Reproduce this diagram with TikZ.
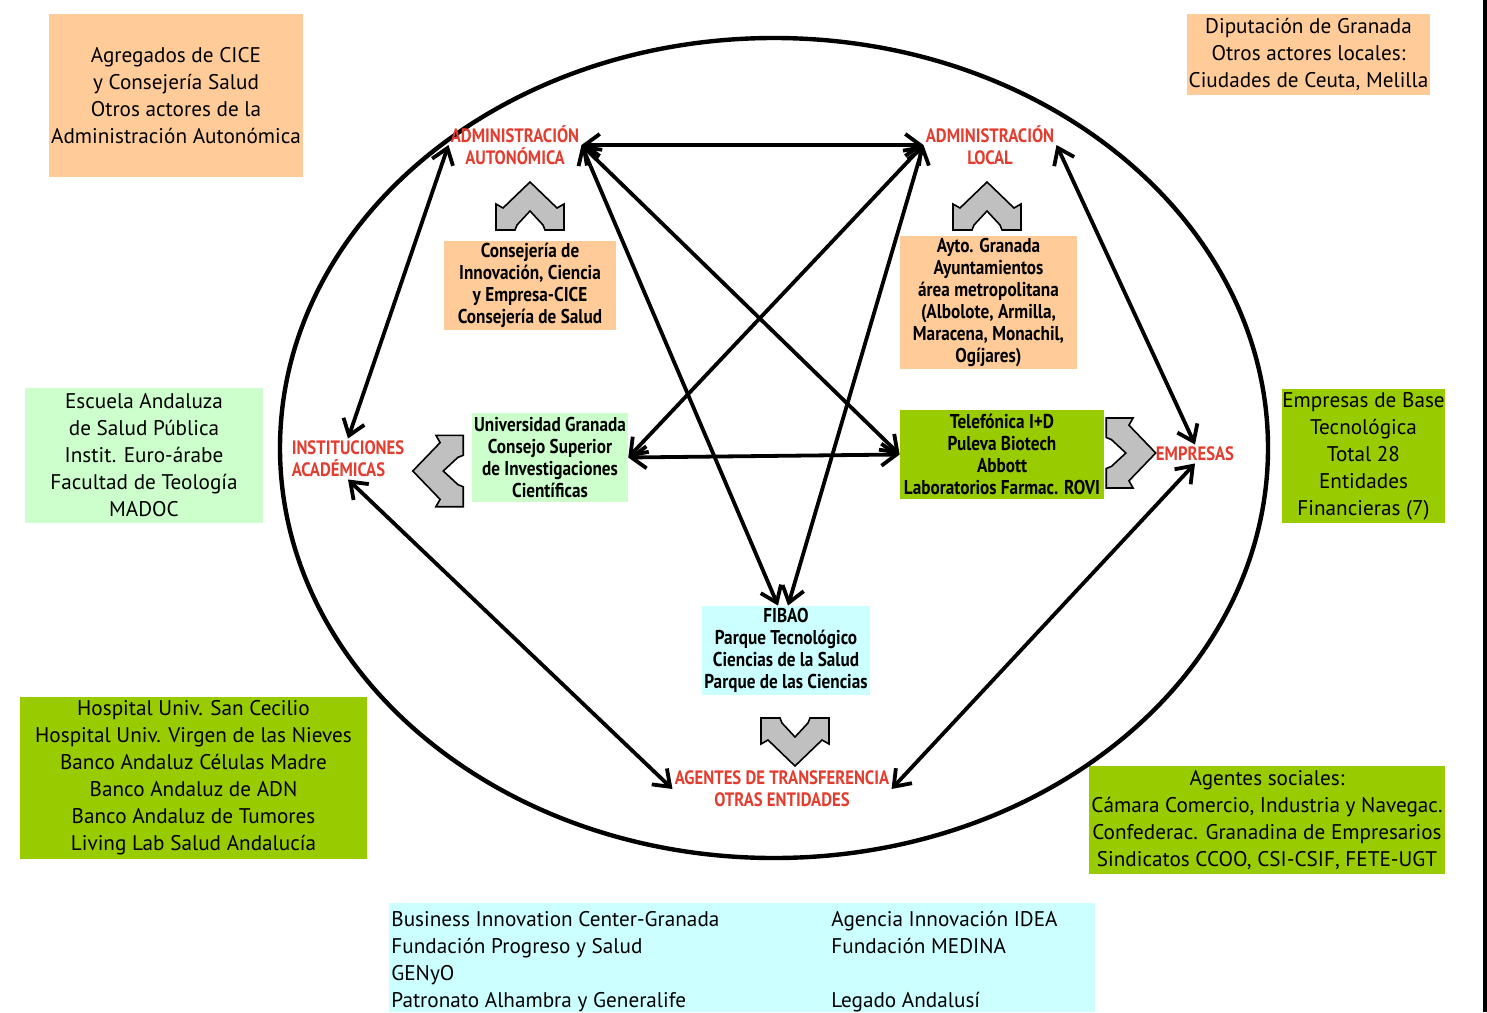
\documentclass[tikz,border=0pt]{standalone}
\usepackage{fontspec}
\setmainfont{PT Sans}
\newfontfamily\narrowfont[FakeStretch=0.86]{PT Sans}
\usetikzlibrary{arrows.meta}
\definecolor{peach}{HTML}{FFCC99}
\definecolor{mint}{HTML}{CCFFCC}
\definecolor{leaf}{HTML}{99CC00}
\definecolor{aqua}{HTML}{CCFFFF}
\definecolor{actorred}{HTML}{E43D30}
\definecolor{swapgray}{HTML}{C0C0C0}

\tikzset{
  swaparrow/.pic={
    \draw[fill=swapgray, line width=0.8pt] (0,-24) -- (27,2) -- (34,-2) -- (34,24) -- (15,24) -- (13,19) -- (0,5)
      -- (-13,19) -- (-15,24) -- (-34,24) -- (-34,-2) -- (-27,2) -- cycle;
  }
}

\begin{document}
\begin{tikzpicture}[
  x=0.5pt, y=-0.5pt,
  outer/.style={rectangle, align=center, inner sep=1pt, font=\fontsize{10.6}{13.5}\selectfont},
  block/.style={rectangle, align=center, inner sep=1pt, minimum height=44.5pt, font=\narrowfont\bfseries\fontsize{10}{11}\selectfont},
  actor/.style={align=center, inner sep=1pt, text=actorred, font=\narrowfont\bfseries\fontsize{9.7}{11}\selectfont},
  link/.style={{Straight Barb[length=7.5pt,width=11pt]}-{Straight Barb[length=7.5pt,width=11pt]}, line width=1.9pt}
]
\useasboundingbox (0,0) rectangle (1487,1012);

% outer actors
\node[outer, fill=peach, minimum width=127pt, minimum height=81.5pt] (agregados) at (176,95.5)
  {Agregados de CICE\\ y Consejería Salud\\Otros actores de la\\Administración Autonómica};
\node[outer, fill=peach, minimum width=120.5pt, minimum height=40.5pt] (diputacion) at (1308.5,54.5)
  {Diputación de Granada\\Otros actores locales:\\Ciudades de Ceuta, Melilla};
\node[outer, fill=mint, minimum width=119pt, minimum height=67.5pt] (escuela) at (144,455.5)
  {Escuela Andaluza\\de Salud Pública\\Instit. Euro-árabe\\Facultad de Teología\\MADOC};
\node[outer, fill=leaf, minimum width=173.5pt, minimum height=81pt] (hospital) at (193.5,778)
  {Hospital Univ. San Cecilio\\Hospital Univ. Virgen de las Nieves\\Banco Andaluz Células Madre\\Banco Andaluz de ADN\\Banco Andaluz de Tumores\\Living Lab Salud Andalucía};
\node[outer, fill=leaf, inner sep=0pt, minimum width=80.5pt, minimum height=67pt] (ebt) at (1363.5,456)
  {Empresas de Base\\Tecnológica\\Total 28\\Entidades\\Financieras (7)};
\node[outer, fill=leaf, minimum width=178pt, minimum height=54pt] (sociales) at (1267,820)
  {Agentes sociales:\\Cámara Comercio, Industria y Navegac.\\Confederac. Granadina de Empresarios\\Sindicatos CCOO, CSI-CSIF, FETE-UGT};
\fill[aqua] (389,903) rectangle (1095,1012);
\node[outer, anchor=north west, inner sep=0pt, align=left] (bic) at (389,907)
  {\begin{tabular}{@{\hspace{1pt}}p{220pt}@{}p{132pt}@{}}
   Business Innovation Center-Granada & Agencia Innovación IDEA\\
   Fundación Progreso y Salud & Fundación MEDINA\\
   GENyO & \\
   Patronato Alhambra y Generalife & Legado Andalusí
   \end{tabular}};

% the system
\draw[line width=2.2pt] (774,448) ellipse [x radius=494, y radius=410];

\node[actor] (adminAut) at (515,145) {ADMINISTRACIÓN\\AUTONÓMICA};
\node[actor] (adminLoc) at (990,145) {ADMINISTRACIÓN\\LOCAL};
\node[actor, align=left] (inst) at (348,459) {INSTITUCIONES\\ACADÉMICAS};
\node[actor] (empresas) at (1195,454) {EMPRESAS};
\node[actor] (agentes) at (782,789) {AGENTES DE TRANSFERENCIA\\OTRAS ENTIDADES};

\node[block, fill=peach, minimum width=86pt] (consejeria) at (530,285.5)
  {Consejería de\\Innovación, Ciencia\\y Empresa-CICE\\Consejería de Salud};
\node[block, fill=peach, minimum width=88.5pt, minimum height=66.5pt] (ayto) at (988.5,302.5)
  {Ayto. Granada\\Ayuntamientos\\área metropolitana\\(Albolote, Armilla,\\Maracena, Monachil,\\Ogíjares)};
\node[block, fill=mint, minimum width=77pt] (univ) at (550,457.5)
  {Universidad Granada\\Consejo Superior\\de Investigaciones\\Científicas};
\node[block, fill=leaf, minimum width=102pt] (telef) at (1002,454.5)
  {Telefónica I+D\\Puleva Biotech\\Abbott\\Laboratorios Farmac. ROVI};
\node[block, fill=aqua, minimum width=83pt] (fibao) at (786,650.5)
  {FIBAO\\Parque Tecnológico\\Ciencias de la Salud\\Parque de las Ciencias};

\pic at (530,206) {swaparrow};
\pic at (987,206) {swaparrow};
\pic[rotate=90, scale=1.05] at (438,471) {swaparrow};
\pic[rotate=-90, scale=1.03] at (1131,453) {swaparrow};
\pic[rotate=180] at (795,742) {swaparrow};

\draw[link] (adminAut.east) -- (adminLoc.west);
\draw[link] (adminAut.west) -- (inst.north);
\draw[link] (adminAut.east) -- (telef.west);
\draw[link] (adminAut.east) -- ([xshift=-4pt]fibao.north);
\draw[link] (adminLoc.west) -- (univ.east);
\draw[link] (adminLoc.west) -- ([xshift=1pt]fibao.north);
\draw[link] (adminLoc.east) -- (empresas.north);
\draw[link] (univ.east) -- (telef.west);
\draw[link] (inst.south) -- (agentes.west);
\draw[link] (empresas.south) -- (agentes.east);

\fill (1483,0) rectangle (1487,1012);
\end{tikzpicture}
\end{document}
